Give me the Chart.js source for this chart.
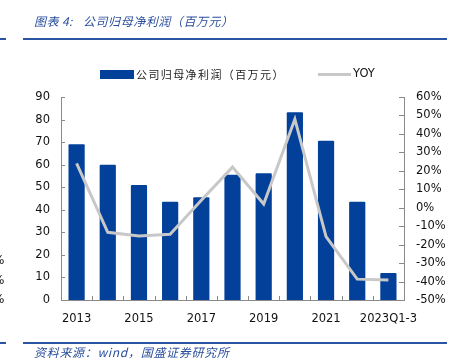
<!DOCTYPE html>
<html>
<head>
<meta charset="utf-8">
<script src="https://cdn.jsdelivr.net/npm/chart.js@4.4.1/dist/chart.umd.min.js"></script>
<style>
html,body{margin:0;padding:0;background:#fff;}
#wrap{position:relative;width:457px;height:361px;overflow:hidden;}
#wrap canvas{position:absolute;left:0;top:0;}
.txt{position:absolute;white-space:nowrap;}
.cap{font-family:"Noto Sans CJK SC",sans-serif;font-style:italic;color:#2b4f9d;font-size:12px;}
.rule{position:absolute;height:2px;background:#2a55a3;}
.leg{font-family:"Noto Sans CJK SC",sans-serif;font-size:11px;letter-spacing:1.4px;color:#222;}
.frag{font-family:"DejaVu Sans",sans-serif;font-size:12px;color:#111;}
</style>
</head>
<body>
<div id="wrap">
  <canvas id="chart-profit"></canvas>
  <div class="txt cap" style="left:34px;top:12px;letter-spacing:0.4px;">图表 4:</div>
  <div class="txt cap" style="left:83px;top:12px;letter-spacing:0.55px;">公司归母净利润（百万元）</div>
  <div class="rule" style="left:23px;top:38px;width:424px;"></div>
  <div class="rule" style="left:0;top:38px;width:6px;"></div>

  <div style="position:absolute;left:100px;top:70px;width:34px;height:9px;background:#02409a;"></div>
  <div class="txt leg" style="left:136px;top:66px;">公司归母净利润（百万元）</div>
  <div style="position:absolute;left:318px;top:73px;width:33px;height:3px;background:#c8c8c8;"></div>
  <div class="txt" style="left:353px;top:66px;font-family:'DejaVu Sans',sans-serif;font-size:11.5px;color:#111;">YOY</div>

  <div class="txt frag" style="left:-7px;top:253px;">%</div>
  <div class="txt frag" style="left:-7px;top:273px;">%</div>
  <div class="txt frag" style="left:-7px;top:292px;">%</div>

  <div class="rule" style="left:23px;top:342px;width:424px;"></div>
  <div class="rule" style="left:0;top:342px;width:6px;"></div>
  <div class="txt cap" style="left:34px;top:343px;letter-spacing:0.7px;">资料来源：wind，国盛证券研究所</div>
</div>
<script>
// ── data ──
const years=['2013','2014','2015','2016','2017','2018','2019','2020','2021','2022','2023Q1-3'];
const profit=[69,60,51,43.6,45.5,55.5,56.2,83.2,70.6,43.6,12];
const yoy=[24,-13.3,-15.3,-14.4,4,22,2,48,-15.7,-38.7,-39.2];
const leftTicks=[0,10,20,30,40,50,60,70,80,90];
const rightTicks=[-50,-40,-30,-20,-10,0,10,20,30,40,50,60];

const AXIS='#8a8a8a';
const tickFont={family:'DejaVu Sans',size:11.5};

// inward tick marks like the original
const inTicks={
  id:'inTicks',
  afterDraw(c){
    const g=c.ctx,a=c.chartArea,sy=c.scales.y,sr=c.scales.y1;
    g.save();g.strokeStyle=AXIS;g.lineWidth=1;g.beginPath();
    leftTicks.forEach(t=>{const y=Math.round(sy.getPixelForValue(t))+.5;g.moveTo(a.left,y);g.lineTo(a.left+4,y);});
    rightTicks.forEach(t=>{const y=Math.round(sr.getPixelForValue(t))+.5;g.moveTo(a.right,y);g.lineTo(a.right-5,y);});
    const w=(a.right-a.left)/years.length;
    for(let i=1;i<years.length;i++){const x=Math.round(a.left+w*i)+.5;g.moveTo(x,a.bottom);g.lineTo(x,a.bottom-4);}
    g.stroke();g.restore();
  }
};

new Chart(document.getElementById('chart-profit'),{
  data:{labels:years,datasets:[
    {type:'bar',label:'公司归母净利润（百万元）',data:profit,yAxisID:'y',backgroundColor:'#02409a',
     barPercentage:0.52,categoryPercentage:1,order:1,borderRadius:1},
    {type:'line',label:'YOY',data:yoy,yAxisID:'y1',borderColor:'#c8c8c8',borderWidth:3,
     pointRadius:0,tension:0,fill:false,order:0}
  ]},
  options:{
    responsive:true,maintainAspectRatio:false,animation:false,
    layout:{padding:{top:97,left:0,right:0,bottom:0}},
    plugins:{legend:{display:false},tooltip:{enabled:false}},
    scales:{
      x:{grid:{display:false,drawTicks:false},border:{color:AXIS},
         ticks:{autoSkip:false,maxRotation:0,padding:12,color:'#111',font:tickFont,
                callback:(v,i)=>i%2===0?years[i]:''},
         afterFit:s=>{s.height=61;}},
      y:{position:'left',min:0,max:90,grid:{display:false,drawTicks:false},border:{color:AXIS},
         ticks:{stepSize:10,padding:11,color:'#111',font:tickFont},
         afterFit:s=>{s.width=61;}},
      y1:{position:'right',min:-50,max:60,grid:{display:false,drawTicks:false},border:{color:AXIS},
          ticks:{stepSize:10,padding:12,color:'#111',font:tickFont,callback:v=>v+'%'},
          afterFit:s=>{s.width=53;}}
    }
  },
  plugins:[inTicks]
});
</script>
</body>
</html>
